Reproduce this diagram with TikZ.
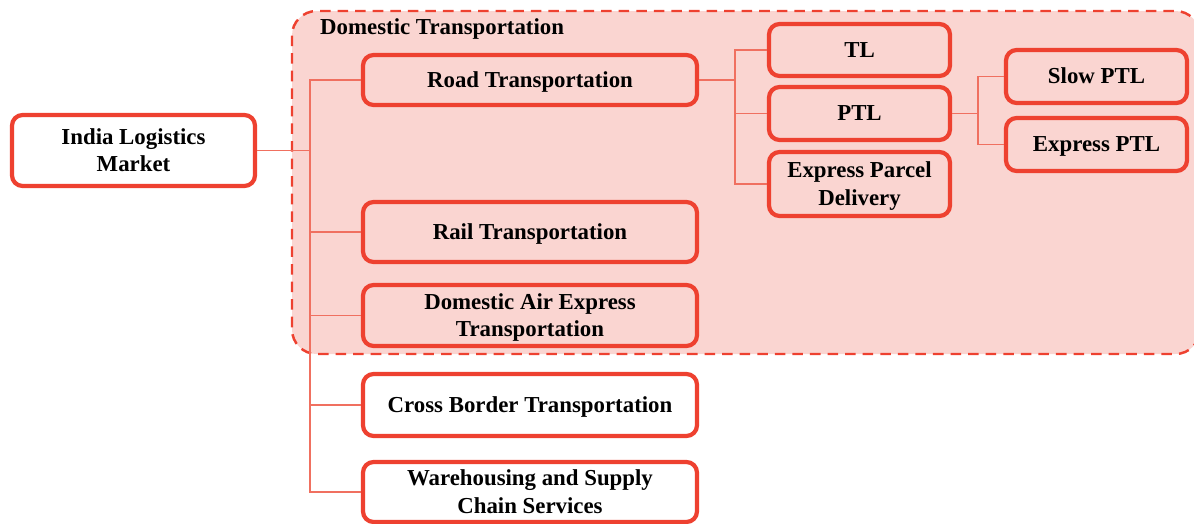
\documentclass[tikz,border=0pt]{standalone}
\usepackage{fontspec}
\setmainfont{Liberation Serif}
\begin{document}
\begin{tikzpicture}[x=0.02cm,y=-0.02cm,
  box/.style={draw=boxred, line width=2.4pt, rounded corners=6pt, fill=white, align=center,
    font=\fontsize{13}{15.5}\selectfont\bfseries, inner sep=0pt, text depth=0.5pt},
  inbox/.style={box, fill=pinkfill},
  conn/.style={draw=linered, line width=0.8pt}]
\definecolor{boxred}{HTML}{EE4130}
\definecolor{linered}{HTML}{F07060}
\definecolor{pinkfill}{HTML}{FAD5D1}
\useasboundingbox (0,0) rectangle (1194,524);
% domestic region
\draw[draw=boxred, line width=1.4pt, dash pattern=on 6pt off 4pt, fill=pinkfill, rounded corners=14pt]
  (292,11) rectangle (1200,354);
\node[anchor=west, font=\fontsize{13}{15.5}\selectfont\bfseries] (dlabel) at (314,29) {Domestic Transportation};
% nodes
\node[box, minimum width=243*0.02cm, minimum height=71*0.02cm] (india) at (133.5,150.5) {India Logistics\\Market};
\node[inbox, minimum width=334*0.02cm, minimum height=50*0.02cm] (road) at (530,80) {Road Transportation};
\node[inbox, minimum width=334*0.02cm, minimum height=60*0.02cm] (rail) at (530,232) {Rail Transportation};
\node[inbox, minimum width=334*0.02cm, minimum height=61*0.02cm] (air) at (530,315.5) {Domestic Air Express\\Transportation};
\node[box, minimum width=334*0.02cm, minimum height=62*0.02cm] (cross) at (530,405) {Cross Border Transportation};
\node[box, minimum width=334*0.02cm, minimum height=60*0.02cm] (ware) at (530,492) {Warehousing and Supply\\Chain Services};
\node[inbox, minimum width=181*0.02cm, minimum height=52*0.02cm] (tl) at (859.5,50) {TL};
\node[inbox, minimum width=181*0.02cm, minimum height=53*0.02cm] (ptl) at (859.5,113.5) {PTL};
\node[inbox, minimum width=181*0.02cm, minimum height=64*0.02cm] (epd) at (859.5,184) {Express Parcel\\Delivery};
\node[inbox, minimum width=181*0.02cm, minimum height=53*0.02cm] (slow) at (1096.5,76.5) {Slow PTL};
\node[inbox, minimum width=181*0.02cm, minimum height=53*0.02cm] (exptl) at (1096.5,144.5) {Express PTL};
% connectors
\coordinate (trunk) at (310,150.5);
\draw[conn] (india.east) -- (trunk);
\draw[conn] (road.west) -| (trunk) |- (ware.west);
\draw[conn] (rail.west) -- (rail.west -| trunk);
\draw[conn] (air.west) -- (air.west -| trunk);
\draw[conn] (cross.west) -- (cross.west -| trunk);
\coordinate (rj) at (735,80);
\draw[conn] (road.east) -- (rj);
\draw[conn] (tl.west) -| (rj) |- (epd.west);
\draw[conn] (ptl.west) -- (ptl.west -| rj);
\coordinate (pj) at (978,113.5);
\draw[conn] (ptl.east) -- (pj);
\draw[conn] (slow.west) -| (pj) |- (exptl.west);
\end{tikzpicture}
\end{document}
